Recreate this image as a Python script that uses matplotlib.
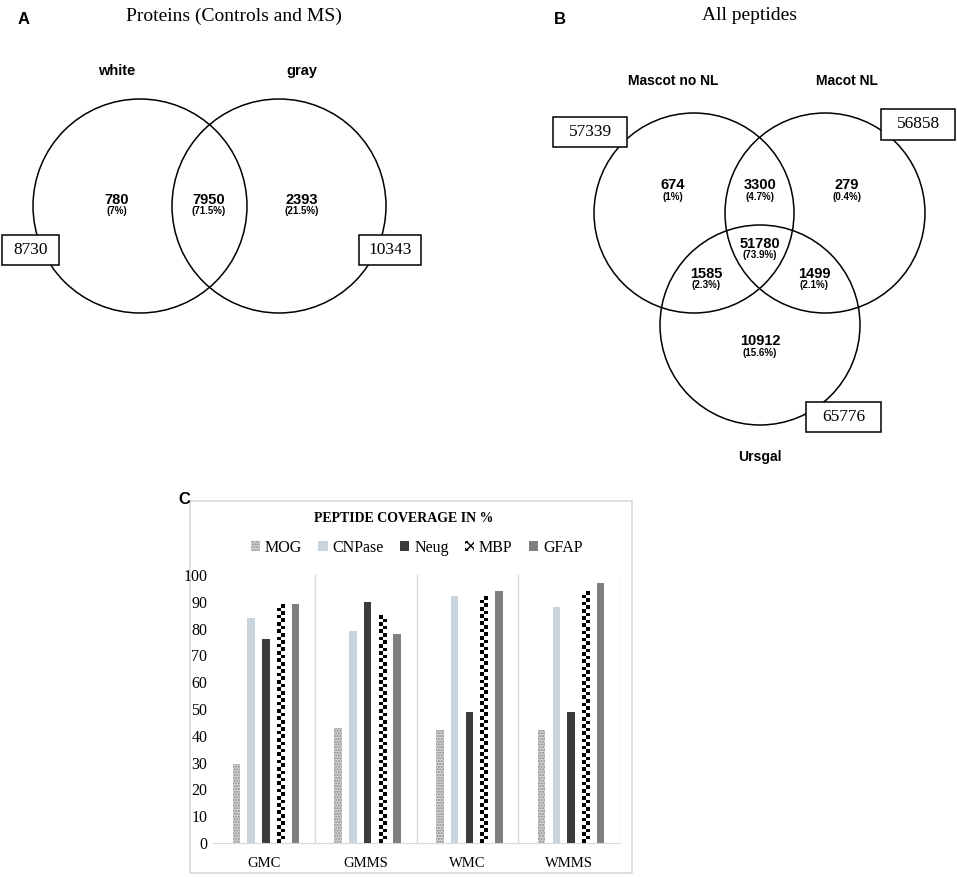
import numpy as np
import matplotlib
matplotlib.use("Agg")
import matplotlib.pyplot as plt
from matplotlib.patches import Circle, Rectangle

# ---------------- data ----------------
# Panel A
a_sets = ["white", "gray"]
a_totals = [8730, 10343]
a_counts = [780, 7950, 2393]
a_pcts = ["(7%)", "(71.5%)", "(21.5%)"]

# Panel B
b_sets = ["Mascot no NL", "Macot NL", "Ursgal"]
b_totals = [57339, 56858, 65776]
b_counts = [674, 3300, 279, 51780, 1585, 1499, 10912]
b_pcts = ["(1%)", "(4.7%)", "(0.4%)", "(73.9%)", "(2.3%)", "(2.1%)", "(15.6%)"]

# Panel C
groups = ["GMC", "GMMS", "WMC", "WMMS"]
proteins = ["MOG", "CNPase", "Neug", "MBP", "GFAP"]
coverage = {
    "MOG":    [29.5, 43, 42, 42],
    "CNPase": [84, 79, 92, 88],
    "Neug":   [76, 90, 49, 49],
    "MBP":    [89, 85, 92, 94],
    "GFAP":   [89, 78, 94, 97],
}
yticks = [0, 10, 20, 30, 40, 50, 60, 70, 80, 90, 100]

W, H = 957, 877
fig = plt.figure(figsize=(W / 100, H / 100), dpi=100)
bg = fig.add_axes([0, 0, 1, 1])
bg.set_xlim(0, W)
bg.set_ylim(H, 0)
bg.axis("off")

sans = ["Liberation Sans", "DejaVu Sans"]
serif = ["Liberation Serif", "DejaVu Serif"]

def num(x, y, n, p):
    bg.text(x, y, str(n), ha="center", va="center", fontsize=10.5, fontweight="bold", family=sans)
    bg.text(x, y + 11.5, p, ha="center", va="center", fontsize=7, fontweight="bold", family=sans)

def box(x0, y0, x1, y1, val):
    bg.add_patch(Rectangle((x0, y0), x1 - x0, y1 - y0, fill=True, facecolor="white",
                           edgecolor="black", lw=1.1, zorder=3))
    bg.text((x0 + x1) / 2, (y0 + y1) / 2, str(val), ha="center", va="center",
            fontsize=12.5, family=serif, zorder=4)

# ---------------- Panel A ----------------
bg.text(24, 20, "A", fontsize=12, fontweight="bold", family=sans, ha="center", va="center")
bg.text(234, 16, "Proteins (Controls and MS)", fontsize=14, family=serif, ha="center", va="center")
for cx in (140, 279):
    bg.add_patch(Circle((cx, 206), 107, fill=False, lw=1.1, ec="black"))
bg.text(117, 71, a_sets[0], fontsize=10.5, fontweight="bold", family=sans, ha="center", va="center")
bg.text(302, 71, a_sets[1], fontsize=10.5, fontweight="bold", family=sans, ha="center", va="center")
for (x, y), n, p in zip([(117, 200), (209, 200), (302, 200)], a_counts, a_pcts):
    num(x, y, n, p)
box(2, 235, 59, 265, a_totals[0])
box(359, 235, 421, 265, a_totals[1])

# ---------------- Panel B ----------------
bg.text(560, 19, "B", fontsize=12, fontweight="bold", family=sans, ha="center", va="center")
bg.text(749, 16, "All peptides", fontsize=14, family=serif, ha="center", va="center")
for cx, cy in [(694, 213), (825, 213), (760, 325)]:
    bg.add_patch(Circle((cx, cy), 100, fill=False, lw=1.1, ec="black"))
bg.text(673, 81, b_sets[0], fontsize=10, fontweight="bold", family=sans, ha="center", va="center")
bg.text(847, 81, b_sets[1], fontsize=10, fontweight="bold", family=sans, ha="center", va="center")
bg.text(760, 457, b_sets[2], fontsize=10, fontweight="bold", family=sans, ha="center", va="center")
bpos = [(673, 185), (760, 185), (847, 185), (760, 244), (706, 274), (814, 274), (760, 341)]
for (x, y), n, p in zip(bpos, b_counts, b_pcts):
    num(x, y, n, p)
box(553, 117, 627, 147, b_totals[0])
box(881, 109, 955, 140, b_totals[1])
box(806, 402, 881, 432, b_totals[2])

# ---------------- Panel C ----------------
bg.text(184, 499, "C", fontsize=12, fontweight="bold", family=sans, ha="center", va="center")
bg.add_patch(Rectangle((190, 501), 632 - 190, 873 - 501, fill=False, ec="#d9d9d9", lw=1.2))
bg.text(404, 519, "PEPTIDE COVERAGE IN %", fontsize=10, fontweight="bold", family=serif,
        ha="center", va="center")

x0p, x1p, y0p, y1p = 213, 620, 843, 575
ax = fig.add_axes([x0p / W, (H - y0p) / H, (x1p - x0p) / W, (y0p - y1p) / H])
ax.set_facecolor("none")

plt.rcParams["hatch.color"] = "#8a8a8a"
styles = {
    "MOG": dict(color="#d4d4d4", hatch="......", edgecolor="#8a8a8a", linewidth=0),
    "CNPase": dict(color="#c9d4dd", edgecolor="none"),
    "Neug": dict(color="#3b3b3b", edgecolor="none"),
    "MBP": dict(color="white", edgecolor="none"),
    "GFAP": dict(color="#7f7f7f", edgecolor="none"),
}
bw = 0.075
offs = np.arange(len(proteins)) - (len(proteins) - 1) / 2
spacing = 0.145
xs = np.arange(len(groups)) + 0.52
handles = []
for i, p in enumerate(proteins):
    st = dict(styles[p])
    bars = ax.bar(xs + offs[i] * spacing, coverage[p], width=bw, zorder=3, **st)
    handles.append(bars)
    if p == "MBP":
        for b in bars:
            h = b.get_height()
            bx = b.get_x()
            nrows = max(1, int(round(h / 100 * (y0p - y1p) / 3.6)))
            chk = (np.add.outer(np.arange(nrows), np.arange(2)) % 2).astype(float)
            im = ax.imshow(chk, cmap="gray", extent=(bx, bx + bw, 0, h), origin="lower",
                           aspect="auto", interpolation="nearest", zorder=4, vmin=0, vmax=1)
            im.set_clip_path(b)
ax.set_xlim(0, len(groups))
ax.set_ylim(0, 100)

for xv in range(1, len(groups) + 1):
    ax.axvline(xv, color="#d9d9d9", lw=1, zorder=1)
ax.set_yticks(yticks)
ax.set_yticklabels([str(t) for t in yticks], family=serif, fontsize=11.5)
ax.set_xticks(np.arange(len(groups)) + 0.5)
ax.set_xticklabels(groups, family=serif, fontsize=10.5)
ax.tick_params(axis="both", length=0, pad=4)
ax.tick_params(axis="x", pad=10)
for s in ["top", "right", "left"]:
    ax.spines[s].set_visible(False)
ax.spines["bottom"].set_color("#d9d9d9")

# legend proxy for checkerboard MBP
mbp_proxy = Rectangle((0, 0), 1, 1, facecolor="white", edgecolor="black", hatch="xxxx", lw=0)
leg_handles = list(handles)
leg_handles[proteins.index("MBP")] = mbp_proxy
plt.rcParams["hatch.color"] = "black"
leg = ax.legend(leg_handles, proteins, loc="center",
                bbox_to_anchor=(0.5, 1.0 + (575 - 548) / (y0p - y1p)),
                ncol=5, frameon=False, prop={"family": serif, "size": 11.5},
                handlelength=0.6, handleheight=0.6, handletextpad=0.3, columnspacing=1.0)

fig.savefig("out.png", dpi=100)
